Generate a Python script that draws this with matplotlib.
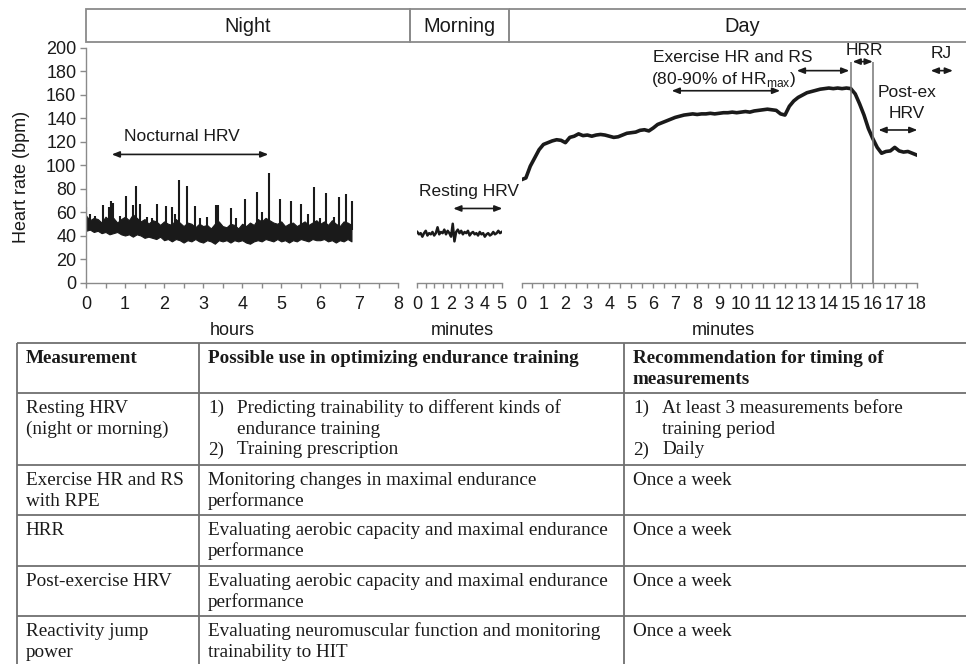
import matplotlib
matplotlib.use("Agg")
import matplotlib.pyplot as plt
import numpy as np
from matplotlib.patches import Rectangle
from matplotlib.ticker import MultipleLocator

plt.rcParams["font.family"] = ["Liberation Sans", "DejaVu Sans"]

# ---- heart-rate traces -------------------------------------------------
# night: envelope of the dense HRV band (every 0.1 h) plus the isolated spikes
night_hours = np.round(np.arange(69) * 0.1, 1)
night_upper = [57, 53, 55, 54, 51, 56, 53, 55, 51, 54,
               56, 53, 58, 55, 52, 54, 50, 53, 52, 49,
               52, 50, 49, 54, 51, 48, 51, 50, 47, 50,
               48, 49, 46, 50, 52, 48, 47, 50, 49, 46,
               50, 48, 51, 49, 54, 52, 55, 53, 51, 50,
               52, 48, 50, 51, 48, 50, 52, 49, 51, 53,
               50, 52, 49, 53, 50, 48, 52, 51, 49]
night_lower = [44, 45, 43, 44, 42, 43, 41, 42, 43, 41,
               40, 41, 39, 41, 40, 38, 39, 38, 37, 39,
               36, 37, 35, 37, 36, 34, 36, 35, 37, 35,
               34, 36, 35, 33, 36, 35, 36, 34, 36, 35,
               36, 34, 33, 35, 36, 35, 37, 36, 35, 37,
               35, 36, 34, 36, 35, 37, 36, 35, 37, 36,
               36, 37, 35, 36, 34, 36, 35, 37, 35]
spike_hours = [0.00, 0.10, 0.23, 0.44, 0.58, 0.64, 0.70, 0.87, 1.03, 1.21,
               1.27, 1.38, 1.56, 1.68, 1.81, 2.05, 2.20, 2.28, 2.37, 2.60,
               2.80, 2.92, 3.10, 3.32, 3.39, 3.71, 3.85, 4.08, 4.38, 4.52,
               4.69, 4.98, 5.25, 5.51, 5.68, 5.85, 6.00, 6.15, 6.35, 6.49,
               6.67, 6.81]
spike_peaks = [64, 58, 57, 66, 64, 69, 68, 57, 74, 66,
               82, 67, 56, 55, 67, 65, 64, 58, 87, 82,
               65, 55, 56, 66, 66, 63, 55, 71, 77, 60,
               93, 71, 69, 67, 58, 81, 55, 76, 56, 73,
               75, 69]

# morning: resting HR, every 0.1 min
morning_min = np.round(np.arange(51) * 0.1, 1)
morning_hr = [43, 41, 42, 39, 42, 44, 40, 42, 41, 43,
              40, 42, 47, 41, 43, 42, 45, 41, 44, 42,
              39, 50, 35, 43, 45, 42, 44, 41, 43, 42,
              44, 40, 42, 43, 41, 42, 40, 43, 41, 42,
              39, 41, 42, 40, 41, 43, 41, 42, 44, 42,
              43]

# day: exercise test, every 0.2 min
day_min = np.round(np.arange(91) * 0.2, 1)
day_hr = [87.5, 89, 99, 106, 113, 117.5, 119, 120.5, 121.5, 121,
          119, 123.5, 124.5, 126.5, 125, 125.5, 124.5, 125.5, 126, 125.5,
          124.5, 123.5, 124, 125.5, 127, 127.5, 128, 129.5, 130, 129,
          131.5, 134.5, 136, 137.5, 139, 140.5, 141.5, 142.5, 143, 143.5,
          143, 143.5, 143.5, 144, 143.5, 144, 144.5, 144.5, 145, 144.5,
          145, 145.5, 145, 146, 146.5, 147, 147.5, 147, 146.5, 143.5,
          142.5, 150, 154.5, 157.5, 159.5, 161.5, 162.5, 163.5, 164.5, 165,
          165.5, 165, 165.5, 165, 165.5, 165, 160.5, 152, 142.5, 131,
          122.5, 115, 110, 111.5, 112, 115, 112, 111, 111.5, 110,
          108.5]

# ---- table -------------------------------------------------------------
table_header = ["Measurement",
                "Possible use in optimizing endurance training",
                "Recommendation for timing of\nmeasurements"]
measurements = ["Resting HRV\n(night or morning)",
                "Exercise HR and RS\nwith RPE",
                "HRR",
                "Post-exercise HRV",
                "Reactivity jump\npower"]
uses = [["1)\tPredicting trainability to different kinds of",
         "\tendurance training",
         "2)\tTraining prescription"],
        ["Monitoring changes in maximal endurance", "performance"],
        ["Evaluating aerobic capacity and maximal endurance", "performance"],
        ["Evaluating aerobic capacity and maximal endurance", "performance"],
        ["Evaluating neuromuscular function and monitoring",
         "trainability to HIT"]]
timings = [["1)\tAt least 3 measurements before",
            "\ttraining period",
            "2)\tDaily"],
           ["Once a week"], ["Once a week"], ["Once a week"], ["Once a week"]]

W, H = 966, 664
GREY = "#8a8a8a"
INK = "#1a1a1a"
fig = plt.figure(figsize=(W / 100, H / 100), dpi=100)

# pixel-space canvas for the header strip and the table
canvas = fig.add_axes([0, 0, 1, 1])
canvas.set_xlim(0, W)
canvas.set_ylim(H, 0)
canvas.axis("off")


def px_rect(left, right, top, bottom):
    return [left / W, 1 - bottom / H, (right - left) / W, (bottom - top) / H]


AX_TOP, AX_BOT = 47.5, 282.5
ax_n = fig.add_axes(px_rect(86, 398.3, AX_TOP, AX_BOT), facecolor="none")
ax_m = fig.add_axes(px_rect(417.3, 501.7, AX_TOP, AX_BOT), facecolor="none")
ax_d = fig.add_axes(px_rect(521.5, 916.7, AX_TOP, AX_BOT), facecolor="none")

for ax, xmax in ((ax_n, 8), (ax_m, 5), (ax_d, 18)):
    ax.set_xlim(0, xmax)
    ax.set_ylim(0, 200)
    ax.xaxis.set_major_locator(MultipleLocator(1))
    ax.xaxis.set_minor_locator(MultipleLocator(0.5))
    for side in ("top", "right"):
        ax.spines[side].set_visible(False)
    for side in ("left", "bottom"):
        ax.spines[side].set_color(GREY)
        ax.spines[side].set_linewidth(1.0)
    ax.tick_params(axis="x", which="both", direction="out", length=3.5,
                   width=1.0, color=GREY, pad=6, labelsize=13,
                   labelcolor=INK)
    ax.tick_params(axis="y", which="both", direction="out", length=4,
                   width=1.0, color=GREY, pad=3, labelsize=13,
                   labelcolor=INK)
    if ax is not ax_n:
        ax.spines["left"].set_visible(False)
        ax.set_yticks([])

ax_n.yaxis.set_major_locator(MultipleLocator(20))

# night trace: filled band plus the spikes above it
ax_n.fill_between(night_hours, night_lower, night_upper, color=INK,
                  edgecolor=INK, lw=0.8)
ax_n.vlines(spike_hours, 45, spike_peaks, color=INK, lw=1.5)
# morning and day traces
ax_m.plot(morning_min, morning_hr, color=INK, lw=1.8)
ax_d.plot(day_min, day_hr, color=INK, lw=2.6, solid_joinstyle="round")

# HRR window
ax_d.vlines([15, 16], 0, 188, color="#777777", lw=1.1)

arrow = dict(arrowstyle="<|-|>,head_length=0.45,head_width=0.18",
             color=INK, lw=1.2, shrinkA=0, shrinkB=0)
ann_font = dict(fontsize=12.5, color=INK, ha="center", va="center")


def span(ax, x0, x1, y):
    ax.annotate("", xy=(x0, y), xytext=(x1, y), arrowprops=arrow,
                annotation_clip=False)


span(ax_n, 0.66, 4.67, 109)
ax_n.text(2.45, 124, "Nocturnal HRV", **ann_font)

span(ax_m, 2.13, 5.04, 63)
ax_m.text(3.06, 77.3, "Resting HRV", **ann_font)

ax_d.text(9.6, 191.5, "Exercise HR and RS", **ann_font)
ax_d.text(9.2, 173, r"(80-90% of HR$_{\mathregular{max}}$)", **ann_font)
span(ax_d, 6.84, 11.78, 163.2)
span(ax_d, 12.54, 14.93, 180.3)
ax_d.text(15.6, 197.3, "HRR", **ann_font)
span(ax_d, 15.08, 16.0, 188)
ax_d.text(17.55, 161.5, "Post-ex", **ann_font)
ax_d.text(17.55, 144, "HRV", **ann_font)
span(ax_d, 16.26, 18.03, 129.8)
ax_d.text(19.13, 194.5, "RJ", **ann_font)
span(ax_d, 18.64, 19.65, 180.3)

# axis titles
label_font = dict(fontsize=13, color=INK, ha="center", va="center")
canvas.text(22, 177, "Heart rate (bpm)", rotation=90, **label_font)
canvas.text(232.5, 330.5, "hours", **label_font)
canvas.text(462, 330.5, "minutes", **label_font)
canvas.text(723, 330.5, "minutes", **label_font)

# header strip
HEAD_TOP, HEAD_BOT = 9.3, 41.7
periods = [("Night", 86, 409.5), ("Morning", 409.5, 509), ("Day", 509, 976)]
for name, x0, x1 in periods:
    canvas.add_patch(Rectangle((x0, HEAD_TOP), x1 - x0, HEAD_BOT - HEAD_TOP,
                               fill=False, edgecolor=GREY, lw=1.3,
                               clip_on=False))
    canvas.text((x0 + x1) / 2, (HEAD_TOP + HEAD_BOT) / 2 + 0.5, name,
                fontsize=14.4, ha="center", va="center", color=INK)

# table grid
col_x = [16.7, 199, 624, 970]
row_y = [343, 393, 465, 515, 566, 616, 700]
LINE = "#707070"
for y in row_y[:-1]:
    canvas.plot([col_x[0], col_x[-1]], [y, y], color=LINE, lw=1.3,
                solid_capstyle="butt")
for x in col_x[:-1]:
    canvas.plot([x, x], [row_y[0], row_y[-1]], color=LINE, lw=1.3,
                solid_capstyle="butt")

serif = dict(family=["Liberation Serif", "DejaVu Serif"], fontsize=13.8,
             color=INK, va="center", ha="left")
LEAD = 20.8
PAD = 8.8
INDENT = 29.5


def cell(lines, col, row_top, bold=False):
    x = col_x[col] + PAD
    for i, line in enumerate(lines):
        y = row_top + 15.3 + i * LEAD
        weight = "bold" if bold else "normal"
        if "\t" in line:
            marker, body = line.split("\t")
            if marker:
                canvas.text(x, y, marker, weight=weight, **serif)
            canvas.text(x + INDENT, y, body, weight=weight, **serif)
        else:
            canvas.text(x, y, line, weight=weight, **serif)


for c, head in enumerate(table_header):
    cell(head.split("\n"), c, row_y[0], bold=True)
for r in range(len(measurements)):
    top = row_y[r + 1]
    cell(measurements[r].split("\n"), 0, top)
    cell(uses[r], 1, top)
    cell(timings[r], 2, top)

fig.savefig("out.png", dpi=100)
